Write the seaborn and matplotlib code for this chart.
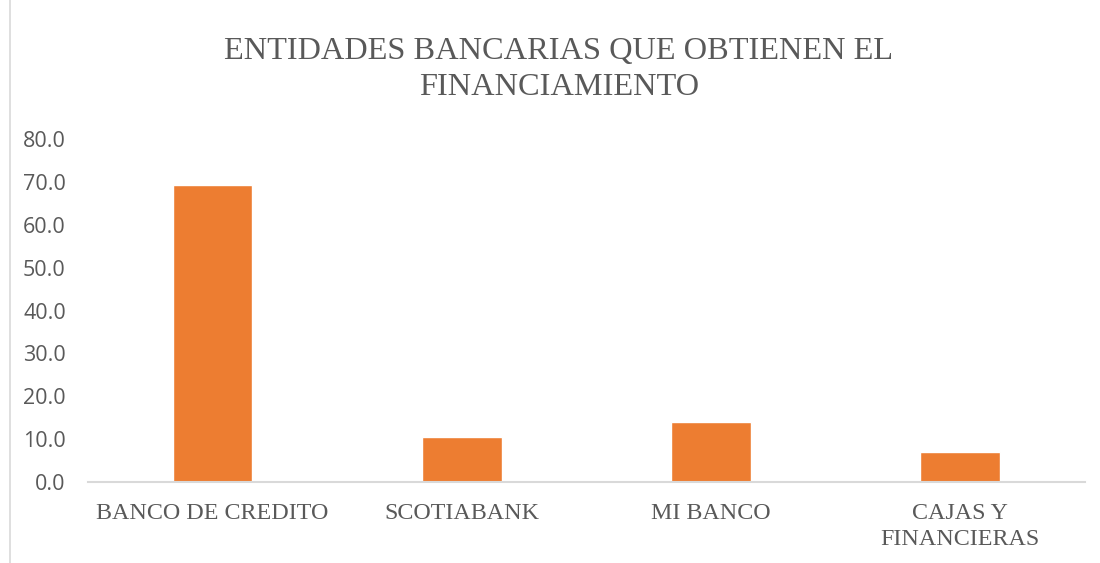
import matplotlib
matplotlib.use("Agg")
import matplotlib.pyplot as plt
import seaborn as sns
import pandas as pd
from matplotlib.lines import Line2D

categories = ["BANCO DE CREDITO", "SCOTIABANK", "MI BANCO", "CAJAS Y\nFINANCIERAS"]
values = [69.4, 10.4, 13.9, 6.9]
y_ticks = [0, 10, 20, 30, 40, 50, 60, 70, 80]
title = "ENTIDADES BANCARIAS QUE OBTIENEN EL\nFINANCIAMIENTO"

sns.set_theme(style="white")
plt.rcParams["font.family"] = ["Liberation Serif", "DejaVu Serif"]

df = pd.DataFrame({"cat": categories, "val": values})

fig = plt.figure(figsize=(11, 5.63), dpi=100)
ax = fig.add_axes([0.08, 0.1439, 0.906, 0.609])

sns.barplot(data=df, x="cat", y="val", color="#ED7D31", width=0.32,
            saturation=1, ax=ax)

ax.set_ylim(0, 80)
ax.set_yticks(y_ticks)
ax.set_yticklabels([f"{v:.1f}" for v in y_ticks], fontsize=15.5,
                   family=["Open Sans", "DejaVu Sans"], color="#595959")
ax.set_xticks(range(len(categories)))
ax.set_xticklabels(categories, fontsize=17.3, color="#595959", linespacing=1.3)
ax.set_xlabel("")
ax.set_ylabel("")
ax.tick_params(axis="y", length=0, pad=16)
ax.tick_params(axis="x", length=0, pad=15)
for s in ["top", "right", "left"]:
    ax.spines[s].set_visible(False)
ax.spines["bottom"].set_color("#D9D9D9")
ax.spines["bottom"].set_linewidth(1.5)
ax.grid(False)

fig.text(0.508, 0.876, title, ha="center", va="center", fontsize=23.3,
         color="#595959", linespacing=1.32)

fig.add_artist(Line2D([0.0095, 0.0095], [0.0, 1.0], transform=fig.transFigure,
                      color="#D9D9D9", linewidth=1.2))

fig.savefig("out.png", dpi=100)
